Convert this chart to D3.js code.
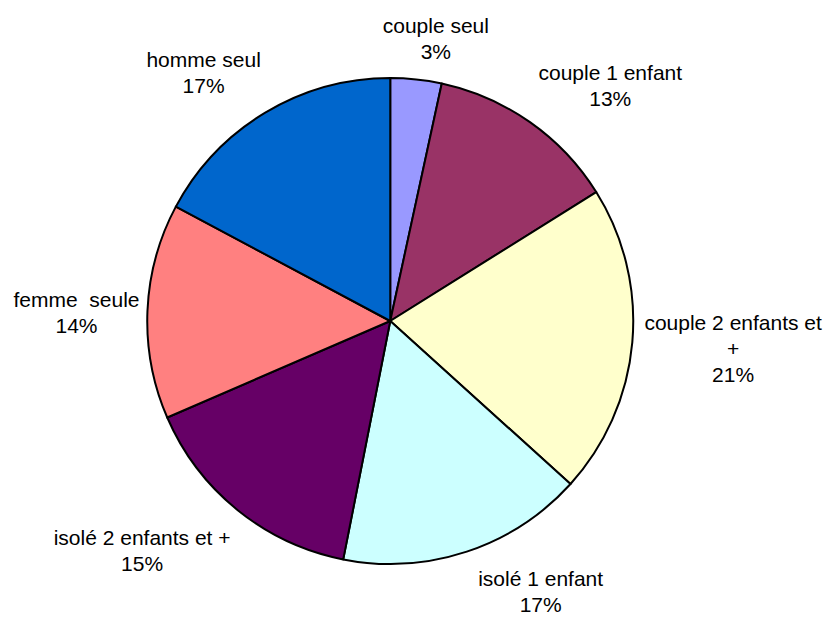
<!DOCTYPE html>
<html>
<head>
<meta charset="utf-8">
<script src="https://cdn.jsdelivr.net/npm/d3@7"></script>
<style>
  body { margin: 0; background: #fff; }
  text { font-family: "Liberation Sans", Arial, sans-serif; font-size: 21px; fill: #000; white-space: pre; }
</style>
</head>
<body>
<div id="chart"></div>
<script>
// household types, in clockwise order from 12 o'clock
const categories = ["couple seul", "couple 1 enfant", "couple 2 enfants et +",
    "isolé 1 enfant", "isolé 2 enfants et +", "femme  seule", "homme seul"];
// shares in %
const shares = [3.4, 12.7, 20.6, 16.4, 15.4, 14.3, 17.2];
// percent labels as printed
const pctLabels = ["3%", "13%", "21%", "17%", "15%", "14%", "17%"];
// label lines as wrapped in the picture
const labelLines = [
    ["couple seul"], ["couple 1 enfant"], ["couple 2 enfants et", "+"],
    ["isolé 1 enfant"], ["isolé 2 enfants et +"], ["femme  seule"], ["homme seul"]
];
const colors = ["#9999FF", "#993366", "#FFFFCC", "#CCFFFF", "#660066", "#FF8080", "#0066CC"];

// layout
const width = 826, height = 617;
const cx = 390.25, cy = 321, radius = 243;
const labelRadius = 287, lineHeight = 26;
// small nudges of the label blocks (px) so they sit like the original
const labelNudge = [[15, 3], [55, -1], [57, 2], [60, -2], [-68, 6], [-27, 3], [-39, -2]];

const data = categories.map((c, i) => ({ name: c, value: shares[i], pct: pctLabels[i], lines: labelLines[i], color: colors[i] }));

const svg = d3.select("#chart").append("svg")
    .attr("width", width)
    .attr("height", height);

const g = svg.append("g")
    .attr("transform", "translate(" + cx + "," + cy + ")");

const pie = d3.pie().sort(null).value(d => d.value);
const arc = d3.arc().innerRadius(0).outerRadius(radius);
const arcs = pie(data);

g.selectAll("path.slice")
    .data(arcs)
    .join("path")
    .attr("class", "slice")
    .attr("d", arc)
    .attr("fill", d => d.data.color)
    .attr("stroke", "#000")
    .attr("stroke-width", 2)
    .attr("stroke-linejoin", "round");

// labels: centre of each block along the mid angle, then nudged
const labels = g.selectAll("g.label")
    .data(arcs)
    .join("g")
    .attr("class", "label")
    .attr("transform", (d, i) => {
        const a = (d.startAngle + d.endAngle) / 2;
        const x = labelRadius * Math.sin(a) + labelNudge[i][0];
        const y = -labelRadius * Math.cos(a) + labelNudge[i][1];
        return "translate(" + x + "," + y + ")";
    });

labels.each(function(d) {
    const lines = d.data.lines.concat([d.data.pct]);
    const top = -(lines.length - 1) * lineHeight / 2;
    d3.select(this).selectAll("text")
        .data(lines)
        .join("text")
        .attr("text-anchor", "middle")
        .attr("dominant-baseline", "central")
        .attr("y", (t, j) => top + j * lineHeight)
        .text(t => t);
});
</script>
</body>
</html>
